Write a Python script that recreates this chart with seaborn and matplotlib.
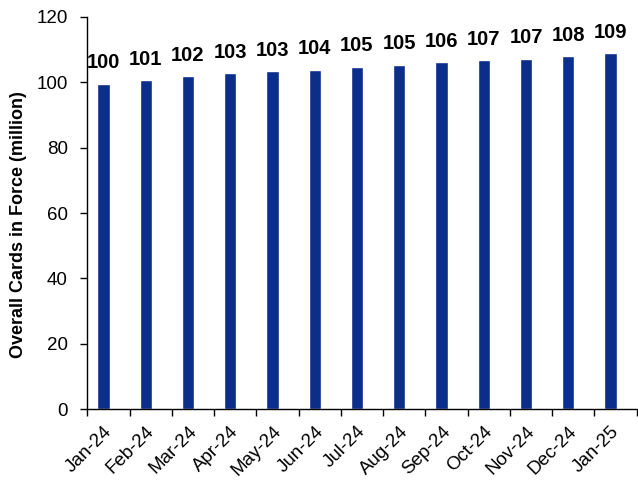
import pandas as pd
import matplotlib.pyplot as plt
import matplotlib.transforms as mtransforms
import seaborn as sns

months = ['Jan-24', 'Feb-24', 'Mar-24', 'Apr-24', 'May-24', 'Jun-24', 'Jul-24',
          'Aug-24', 'Sep-24', 'Oct-24', 'Nov-24', 'Dec-24', 'Jan-25']
cards = [99.5, 100.7, 101.9, 102.8, 103.4, 103.8, 104.7,
         105.4, 106.1, 106.8, 107.2, 108.0, 108.9]
labels = ['100', '101', '102', '103', '103', '104', '105',
          '105', '106', '107', '107', '108', '109']

sns.set_style('white')
plt.rcParams['font.family'] = ['Liberation Sans', 'DejaVu Sans']
plt.rcParams['text.color'] = 'black'
plt.rcParams['xtick.color'] = 'black'
plt.rcParams['ytick.color'] = 'black'
plt.rcParams['axes.labelcolor'] = 'black'

df = pd.DataFrame({'month': months, 'cards': cards})

fig = plt.figure(figsize=(6.38, 4.83), dpi=100)
ax = fig.add_axes([0.137, 0.153, 0.861, 0.812])
sns.barplot(data=df, x='month', y='cards', color='#0a2e8a', width=0.29,
            saturation=1, ax=ax)
# bars sit a little left of the category centre, as in the original
for p in ax.patches:
    p.set_x(p.get_x() - 0.12)

for i, lab in enumerate(labels):
    ax.text(i - 0.12, cards[i] + 3.5, lab, ha='center', va='bottom',
            fontsize=14.5, fontweight='bold')

ax.set_ylim(0, 120)
ax.set_yticks(range(0, 121, 20))
ax.set_xlim(-0.5, len(months) - 0.5)
ax.set_xlabel('')
ax.set_ylabel('Overall Cards in Force (million)', fontsize=13, fontweight='bold')
ax.yaxis.set_label_coords(-0.11, 0.47)
ax.tick_params(axis='y', labelsize=13.5, length=5, pad=9, direction='out',
               left=True, width=1)
ax.set_xticks(range(len(months)))
ax.set_xticklabels(months, rotation=45, ha='right', rotation_mode='anchor', fontsize=13.5)
ax.tick_params(axis='x', length=0, pad=10)
shift = mtransforms.ScaledTranslation(-0.05, 0, fig.dpi_scale_trans)
for t in ax.get_xticklabels():
    t.set_transform(t.get_transform() + shift)
# boundary ticks like the original
ax.set_xticks([i - 0.5 for i in range(len(months) + 1)], minor=True)
ax.tick_params(axis='x', which='minor', length=5, bottom=True, width=1)

for s in ['top', 'right']:
    ax.spines[s].set_visible(False)
for s in ['left', 'bottom']:
    ax.spines[s].set_color('black')
    ax.spines[s].set_linewidth(1)

plt.savefig('out.png', dpi=100)
plt.close()
